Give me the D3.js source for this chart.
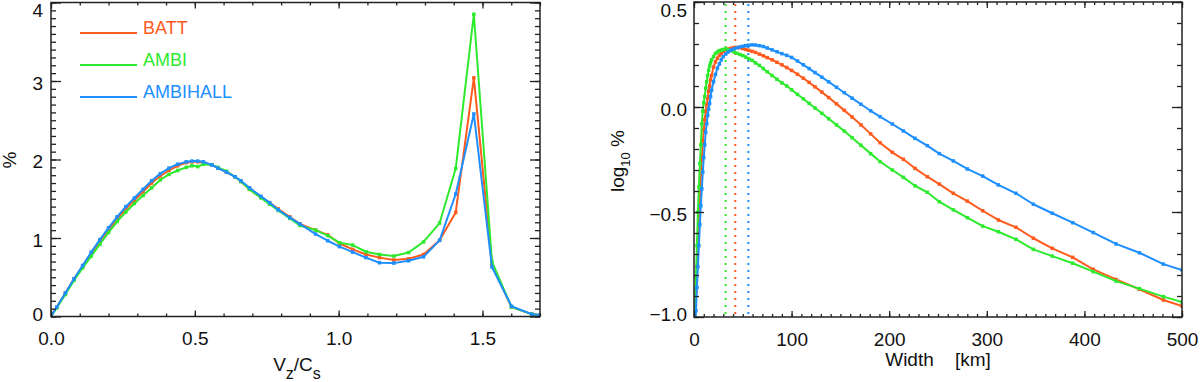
<!DOCTYPE html>
<html>
<head>
<meta charset="utf-8">
<script src="https://cdn.jsdelivr.net/npm/d3@7"></script>
<style>
  body { margin: 0; background: #fff; }
  svg text { font-family: "Liberation Sans", Arial, sans-serif; fill: #111; }
</style>
</head>
<body>
<div id="chart"></div>
<script>
// ---- data ----
const seriesNames = ['BATT', 'AMBI', 'AMBIHALL'];
const seriesColours = ['#ff5b1e', '#2eea2e', '#1e8fff'];

// left panel: distribution of Vz/Cs (%)
const vzCs = [0, 0.02, 0.05, 0.08, 0.11, 0.14, 0.17, 0.20, 0.23, 0.26, 0.29, 0.32, 0.35, 0.38, 0.41, 0.44,
  0.47, 0.49, 0.51, 0.53, 0.56, 0.58, 0.61, 0.64, 0.66, 0.69, 0.73, 0.76, 0.79, 0.83, 0.865, 0.92, 0.962,
  1.003, 1.049, 1.095, 1.142, 1.192, 1.243, 1.295, 1.351, 1.407, 1.470, 1.533, 1.601, 1.671, 1.70];
const battPct = [0, 0.12, 0.30, 0.48, 0.64, 0.80, 0.96, 1.10, 1.24, 1.37, 1.48, 1.59, 1.70, 1.79, 1.86, 1.92,
  1.96, 1.97, 1.97, 1.96, 1.93, 1.89, 1.84, 1.78, 1.72, 1.62, 1.52, 1.45, 1.37, 1.27, 1.18, 1.10, 1.04,
  0.93, 0.855, 0.79, 0.75, 0.72, 0.735, 0.79, 0.97, 1.325, 3.04, 0.655, 0.12, 0.03, 0.02];
const ambiPct = [0, 0.11, 0.28, 0.46, 0.62, 0.77, 0.92, 1.07, 1.21, 1.33, 1.44, 1.54, 1.64, 1.74, 1.81, 1.86,
  1.90, 1.92, 1.91, 1.94, 1.93, 1.90, 1.85, 1.78, 1.72, 1.62, 1.51, 1.43, 1.35, 1.25, 1.16, 1.10, 1.03,
  0.94, 0.91, 0.825, 0.79, 0.77, 0.815, 0.95, 1.19, 1.885, 3.85, 0.70, 0.12, 0.03, 0.02];
const ambihallPct = [0, 0.12, 0.30, 0.48, 0.65, 0.82, 0.98, 1.13, 1.27, 1.40, 1.51, 1.62, 1.73, 1.82, 1.89, 1.94,
  1.97, 1.98, 1.98, 1.97, 1.93, 1.89, 1.84, 1.78, 1.73, 1.64, 1.53, 1.45, 1.36, 1.26, 1.18, 1.05, 0.965,
  0.89, 0.82, 0.75, 0.685, 0.68, 0.71, 0.76, 0.97, 1.56, 2.58, 0.63, 0.13, 0.03, 0.02];

// right panel: log10 % against width in km
const widthKm = [0.5, 1, 2, 3, 4, 5, 6, 7, 8, 9, 10,
  11, 12, 13, 14, 15, 16, 17, 18, 20, 22,
  24, 26, 28, 30, 32.5, 35, 38, 41, 44, 47,
  50, 53, 56, 59.5, 63, 67, 71, 75, 80, 85,
  90, 95, 100, 106, 112, 118, 124, 131, 138, 146,
  154, 162, 171, 181, 190.6, 203.2, 214.5, 226.4, 239, 251.3,
  265.7, 280, 295.8, 311.8, 329.9, 347.7, 367.1, 388, 409.1, 432.4,
  456.3, 480.9, 500];
const battLog = [-1.10, -1.02, -0.88, -0.76, -0.63, -0.52, -0.42, -0.33, -0.25, -0.17, -0.11,
  -0.06, -0.02, 0.01, 0.04, 0.075, 0.10, 0.13, 0.15, 0.19, 0.215,
  0.232, 0.246, 0.256, 0.264, 0.271, 0.276, 0.280, 0.283, 0.284, 0.282,
  0.278, 0.274, 0.270, 0.265, 0.260, 0.252, 0.244, 0.235, 0.225, 0.213,
  0.201, 0.188, 0.174, 0.156, 0.137, 0.117, 0.096, 0.071, 0.045, 0.015,
  -0.016, -0.048, -0.085, -0.128, -0.17, -0.216, -0.249, -0.292, -0.332, -0.367,
  -0.411, -0.448, -0.494, -0.538, -0.573, -0.625, -0.673, -0.716, -0.773, -0.821,
  -0.868, -0.919, -0.948];
const ambiLog = [-1.05, -0.96, -0.81, -0.66, -0.50, -0.38, -0.27, -0.18, -0.08, -0.02, 0.02,
  0.05, 0.09, 0.12, 0.15, 0.175, 0.195, 0.21, 0.225, 0.24, 0.255,
  0.262, 0.268, 0.271, 0.274, 0.275, 0.273, 0.268, 0.262, 0.256, 0.250,
  0.245, 0.238, 0.230, 0.222, 0.210, 0.198, 0.183, 0.168, 0.150, 0.132,
  0.115, 0.100, 0.082, 0.060, 0.039, 0.017, -0.005, -0.030, -0.056, -0.085,
  -0.115, -0.146, -0.182, -0.222, -0.260, -0.300, -0.335, -0.375, -0.406, -0.451,
  -0.490, -0.527, -0.567, -0.594, -0.630, -0.678, -0.710, -0.744, -0.784, -0.829,
  -0.865, -0.903, -0.929];
const ambihallLog = [-1.15, -1.08, -0.97, -0.86, -0.76, -0.66, -0.56, -0.47, -0.39, -0.31, -0.24,
  -0.18, -0.12, -0.08, -0.04, -0.01, 0.017, 0.05, 0.08, 0.12, 0.155,
  0.185, 0.205, 0.225, 0.24, 0.252, 0.262, 0.271, 0.277, 0.282, 0.286,
  0.289, 0.292, 0.294, 0.296, 0.295, 0.292, 0.288, 0.281, 0.272, 0.263,
  0.254, 0.246, 0.236, 0.219, 0.201, 0.183, 0.164, 0.142, 0.120, 0.094,
  0.068, 0.042, 0.013, -0.018, -0.046, -0.081, -0.114, -0.149, -0.184, -0.222,
  -0.257, -0.295, -0.329, -0.371, -0.411, -0.463, -0.506, -0.551, -0.598, -0.652,
  -0.694, -0.748, -0.776];
// widths of the peaks (dotted lines): BATT, AMBI, AMBIHALL
const peakWidthKm = [42.3, 32.4, 55.7];

// ticks
const leftXMajor = [0, 0.5, 1.0, 1.5];
const leftYMajor = [0, 1, 2, 3, 4];
const rightXMajor = [0, 100, 200, 300, 400, 500];
const rightYMajor = [-1.0, -0.5, 0.0, 0.5];

// ---- layout ----
const width = 1200;
const height = 382;
const fontSize = 19;

const svg = d3.select('#chart')
  .append('svg')
    .attr('width', width)
    .attr('height', height);

// draws the box with inward ticks on all four sides
function drawFrame(g, x, y, o) {
  const [x0, x1] = x.range();
  const [y1, y0] = y.range();
  const clean = s => s.select('.domain').remove();

  // minor ticks
  g.append('g').attr('transform', `translate(0,${y1})`)
    .call(d3.axisBottom(x).tickValues(o.xMinor).tickSize(-3).tickFormat('')).call(clean);
  g.append('g').attr('transform', `translate(0,${y0})`)
    .call(d3.axisTop(x).tickValues(o.xMinor).tickSize(-3).tickFormat('')).call(clean);
  g.append('g').attr('transform', `translate(${x0},0)`)
    .call(d3.axisLeft(y).tickValues(o.yMinor).tickSize(-5).tickFormat('')).call(clean);
  g.append('g').attr('transform', `translate(${x1},0)`)
    .call(d3.axisRight(y).tickValues(o.yMinor).tickSize(-5).tickFormat('')).call(clean);

  // major ticks + labels
  g.append('g').attr('transform', `translate(0,${y1})`)
    .call(d3.axisBottom(x).tickValues(o.xMajor).tickSize(-6).tickPadding(15.5).tickFormat(o.xFormat))
    .call(clean)
    .attr('font-size', fontSize);
  g.append('g').attr('transform', `translate(0,${y0})`)
    .call(d3.axisTop(x).tickValues(o.xMajor).tickSize(-6).tickFormat('')).call(clean);
  g.append('g').attr('transform', `translate(${x0},0)`)
    .call(d3.axisLeft(y).tickValues(o.yMajor).tickSize(-10).tickPadding(o.yPad).tickFormat(o.yFormat))
    .call(clean)
    .attr('font-size', fontSize)
    .selectAll('.tick text')
      .attr('dy', d => {
        const c = Math.min(Math.max(y(d) + 1, 9), 313);
        return (c - y(d) + 7) + 'px';
      });
  g.append('g').attr('transform', `translate(${x1},0)`)
    .call(d3.axisRight(y).tickValues(o.yMajor).tickSize(-10).tickFormat('')).call(clean);

  g.selectAll('.tick line').attr('stroke', '#222').attr('stroke-width', 1.3);

  g.append('rect')
    .attr('x', x0).attr('y', y0)
    .attr('width', x1 - x0).attr('height', y1 - y0)
    .attr('fill', 'none')
    .attr('stroke', '#222')
    .attr('stroke-width', 1.5);
}

function drawSeries(g, x, y, xs, ys, colour, clipId) {
  const pts = d3.zip(xs, ys);
  const s = g.append('g').attr('clip-path', `url(#${clipId})`);
  s.append('path')
    .datum(pts)
    .attr('fill', 'none')
    .attr('stroke', colour)
    .attr('stroke-width', 2)
    .attr('stroke-linejoin', 'round')
    .attr('d', d3.line().x(d => x(d[0])).y(d => y(d[1])));
  s.selectAll('rect')
    .data(pts)
    .enter()
      .append('rect')
        .attr('x', d => x(d[0]) - 1.75)
        .attr('y', d => y(d[1]) - 1.75)
        .attr('width', 3.5)
        .attr('height', 3.5)
        .attr('fill', colour);
}

function addClip(id, x, y) {
  const [x0, x1] = x.range();
  const [y1, y0] = y.range();
  svg.append('clipPath').attr('id', id)
    .append('rect')
      .attr('x', x0).attr('y', y0 - 1)
      .attr('width', x1 - x0).attr('height', y1 - y0 + 1);
}

// ---- left panel ----
const xLeft = d3.scaleLinear().domain([0, 1.7]).range([51, 540]);
const yLeft = d3.scaleLinear().domain([0, 4]).range([316.5, 2.5]);
addClip('clipLeft', xLeft, yLeft);

const gLeft = svg.append('g');
const leftSeries = [battPct, ambiPct, ambihallPct];
leftSeries.forEach((ys, i) => drawSeries(gLeft, xLeft, yLeft, vzCs, ys, seriesColours[i], 'clipLeft'));

drawFrame(gLeft, xLeft, yLeft, {
  xMajor: leftXMajor,
  xMinor: d3.range(0, 1.71, 0.1),
  yMajor: leftYMajor,
  yMinor: d3.range(0, 4.01, 0.2).concat(d3.range(0.1, 4, 0.2)),
  xFormat: d3.format('.1f'),
  yFormat: d3.format('d'),
  yPad: 8
});

// legend
const legend = gLeft.append('g');
seriesNames.forEach((name, i) => {
  const ly = 33 + i * 32;
  legend.append('line')
    .attr('x1', 80).attr('x2', 137)
    .attr('y1', ly).attr('y2', ly)
    .attr('stroke', seriesColours[i])
    .attr('stroke-width', 2);
  legend.append('text')
    .attr('x', 143).attr('y', ly + 0.5)
    .attr('font-size', 18)
    .style('fill', seriesColours[i])
    .text(name);
});

// axis titles
const xTitleLeft = svg.append('text')
  .attr('x', 297).attr('y', 371)
  .attr('text-anchor', 'middle')
  .attr('font-size', fontSize);
xTitleLeft.append('tspan').text('V');
xTitleLeft.append('tspan').attr('dy', 8).attr('font-size', 16).text('z');
xTitleLeft.append('tspan').attr('dy', -8).text('/C');
xTitleLeft.append('tspan').attr('dy', 8).attr('font-size', 16).text('s');

svg.append('text')
  .attr('transform', 'translate(16,160) rotate(-90)')
  .attr('text-anchor', 'middle')
  .attr('font-size', fontSize)
  .text('%');

// ---- right panel ----
const xRight = d3.scaleLinear().domain([0, 500]).range([694, 1182]);
const yRight = d3.scaleLinear().domain([-1, 0.5]).range([317, 2]);
addClip('clipRight', xRight, yRight);

const gRight = svg.append('g');

// dotted lines at the peak widths
gRight.selectAll('line.peak')
  .data(peakWidthKm)
  .enter()
    .append('line')
      .attr('class', 'peak')
      .attr('x1', d => xRight(d)).attr('x2', d => xRight(d))
      .attr('y1', yRight(0.5) + 2).attr('y2', yRight(-1))
      .attr('stroke', (d, i) => seriesColours[i])
      .attr('stroke-width', 2)
      .attr('stroke-dasharray', '2,5');

const rightSeries = [battLog, ambiLog, ambihallLog];
rightSeries.forEach((ys, i) => drawSeries(gRight, xRight, yRight, widthKm, ys, seriesColours[i], 'clipRight'));

drawFrame(gRight, xRight, yRight, {
  xMajor: rightXMajor,
  xMinor: d3.range(0, 501, 10),
  yMajor: rightYMajor,
  yMinor: d3.range(-10, 6).map(v => v / 10),
  xFormat: d3.format('d'),
  yFormat: d => d3.format('.1f')(d).replace('-', '\u2212'),
  yPad: 7
});

svg.append('text')
  .attr('x', 938).attr('y', 366)
  .attr('text-anchor', 'middle')
  .attr('font-size', fontSize)
  .text('Width\u00a0\u00a0\u00a0\u00a0[km]');

const yTitleRight = svg.append('text')
  .attr('transform', 'translate(624,161) rotate(-90)')
  .attr('text-anchor', 'middle')
  .attr('font-size', fontSize);
yTitleRight.append('tspan').text('log');
yTitleRight.append('tspan').attr('dy', 6).attr('font-size', 13).text('10');
yTitleRight.append('tspan').attr('dy', -6).text('\u00a0%');
</script>
</body>
</html>
